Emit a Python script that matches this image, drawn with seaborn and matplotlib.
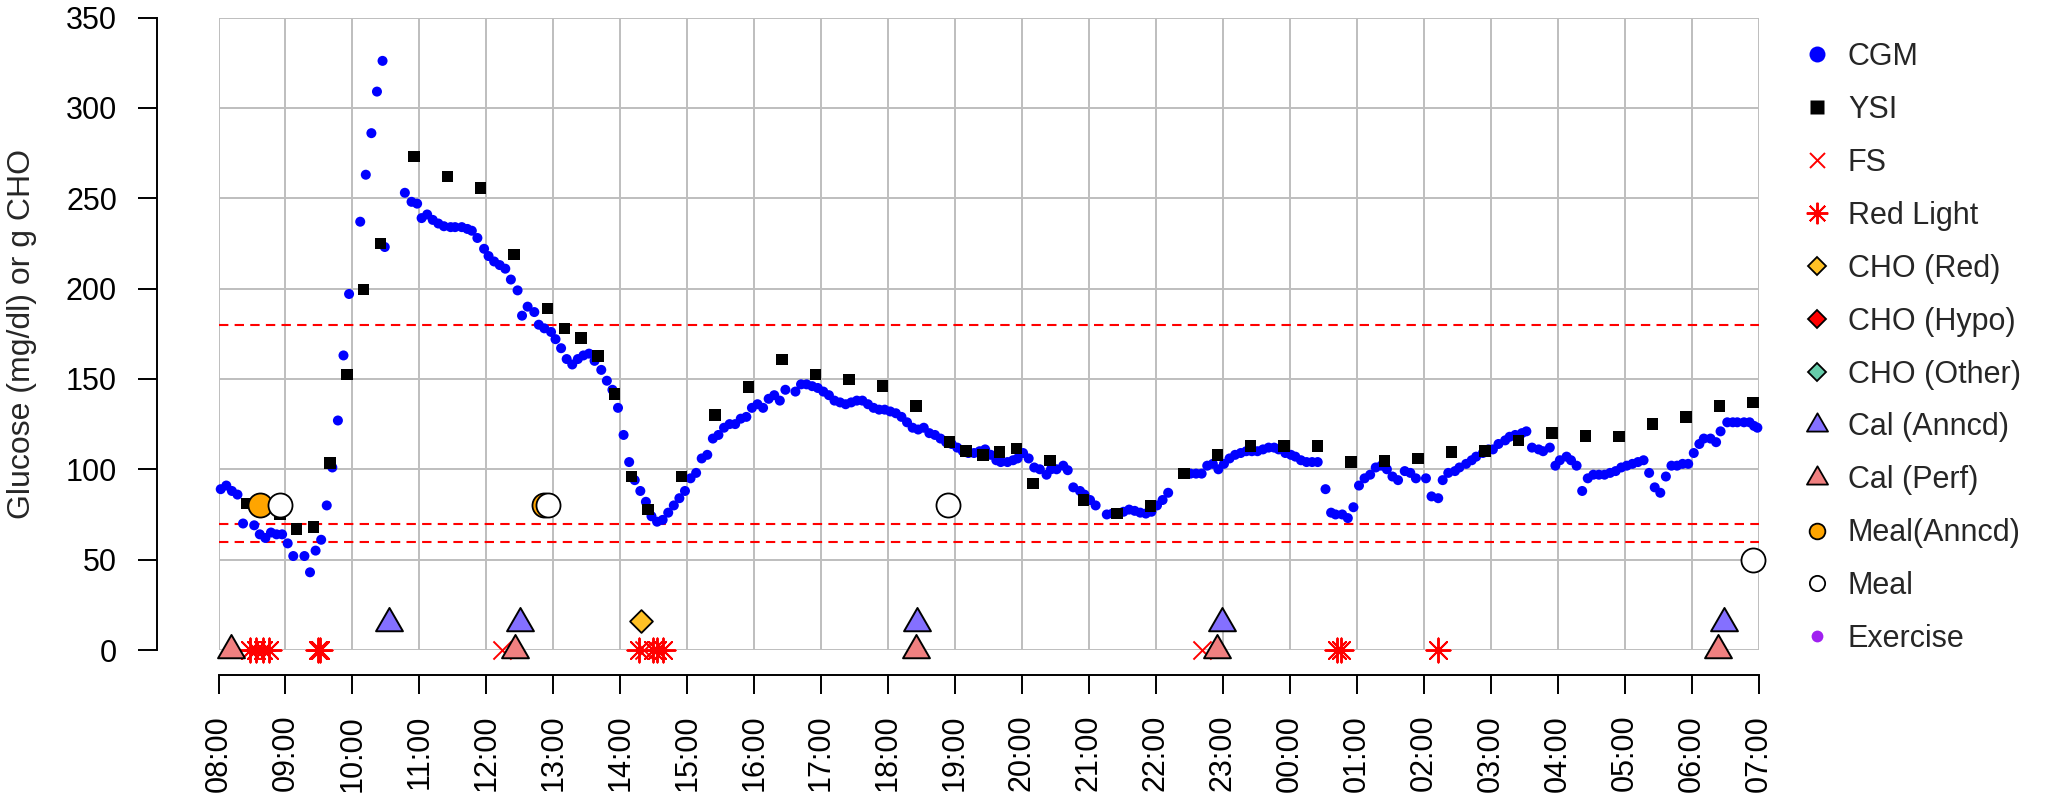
import numpy as np
import matplotlib
matplotlib.use("Agg")
import matplotlib.pyplot as plt
import seaborn as sns
from matplotlib.path import Path
from matplotlib.lines import Line2D

sns.set_style("white")
plt.rcParams["font.family"] = ["Liberation Sans", "DejaVu Sans"]

# ---------------- data (time = minutes after 08:00) ----------------
hour_labels = ["08:00", "09:00", "10:00", "11:00", "12:00", "13:00", "14:00", "15:00",
               "16:00", "17:00", "18:00", "19:00", "20:00", "21:00", "22:00", "23:00",
               "00:00", "01:00", "02:00", "03:00", "04:00", "05:00", "06:00", "07:00"]
y_ticks = [0, 50, 100, 150, 200, 250, 300, 350]
limit_lines = [180, 70, 60]

cgm_min = [2, 7, 12, 17, 22, 32, 37, 42, 47, 52, 57, 62, 67, 77, 82, 87, 92, 97, 102, 107,
           112, 117, 127, 132, 137, 142, 147, 149, 167, 173, 178, 182, 187, 192, 197, 202,
           208, 212, 218, 223, 227, 232, 238, 242, 247, 252, 257, 262, 268, 272, 277, 283,
           287, 292, 298, 302, 307, 312, 317, 322, 327, 332, 337, 343, 348, 353, 358, 363,
           368, 373, 378, 383, 388, 393, 398, 403, 408, 413, 418, 423, 428, 433, 438, 443,
           448, 453, 458, 463, 468, 473, 478, 483, 488, 493, 498, 503, 508, 517, 522, 527,
           532, 537, 542, 547, 552, 557, 562, 567, 572, 577, 582, 587, 592, 597, 602, 607,
           612, 617, 622, 627, 632, 637, 642, 647, 652, 657, 662, 667, 672, 677, 682, 687,
           692, 697, 701, 707, 712, 716, 721, 726, 731, 736, 742, 746, 751, 757, 761, 766,
           772, 776, 781, 786, 796, 801, 806, 811, 816, 821, 826, 831, 836, 841, 846, 851,
           871, 876, 881, 886, 891, 896, 901, 906, 911, 916, 921, 926, 931, 936, 941, 946,
           950, 956, 961, 965, 970, 975, 980, 985, 992, 997, 1001, 1007, 1012, 1017, 1022,
           1027, 1032, 1037, 1042, 1047, 1052, 1057, 1063, 1068, 1073, 1082, 1087, 1093,
           1097, 1102, 1108, 1112, 1118, 1123, 1127, 1133, 1138, 1142, 1147, 1153, 1157,
           1162, 1168, 1172, 1177, 1183, 1187, 1193, 1198, 1202, 1208, 1212, 1217, 1222,
           1227, 1232, 1237, 1242, 1247, 1252, 1257, 1262, 1267, 1272, 1277, 1282, 1287,
           1292, 1297, 1302, 1307, 1312, 1317, 1322, 1327, 1331, 1337, 1342, 1346, 1352,
           1357, 1361, 1367, 1372, 1376, 1379]
cgm_val = [89, 91, 88, 86, 70, 69, 64, 62, 65, 64, 64, 59, 52, 52, 43, 55, 61, 80, 101, 127,
           163, 197, 237, 263, 286, 309, 326, 223, 253, 248, 247, 239, 241, 238, 236, 234.5,
           234, 234, 234, 233, 232, 228, 222, 218, 215, 213, 211, 205, 199, 185, 190, 187,
           180, 178, 176, 172, 167, 161, 158, 161, 163, 164, 160, 155, 149, 144, 134, 119,
           104, 94, 88, 82, 74, 71, 72, 76, 80, 84, 88, 95, 98, 106, 108, 117,
           119, 123, 125, 125, 128, 129, 134, 136, 134, 139, 141, 138, 144, 143, 147, 147,
           146, 145, 143, 141, 138, 137, 136, 137, 138, 138, 136, 134, 133, 133, 132, 131,
           129, 126, 123, 122, 123, 120, 119, 117, 115, 114, 112, 110, 109, 109, 110, 111,
           108, 105, 104, 104, 105, 106, 109, 106, 101, 100, 97, 100, 100, 102, 99.5, 90,
           88, 86, 83, 80, 75, 75.5, 75.5, 76.5, 77.7, 77, 76, 75.5, 76.5, 80, 83, 87,
           97.6, 97.6, 97.6, 102, 103, 100, 103, 106, 108, 109, 110, 110, 110, 111, 112, 112,
           111, 109, 108, 107, 105, 104, 104, 104, 89, 76, 75, 75, 73, 79, 91,
           95, 97, 101, 102, 100, 96, 94, 99, 98, 95, 95, 85, 84,
           94, 98, 99, 101, 103, 105, 107, 109, 111, 111, 114, 116, 118,
           119, 120, 121, 112, 111, 110, 112, 102, 105, 107, 105, 102, 88,
           95, 97, 97, 97, 98, 99, 101, 102, 103, 104, 105, 98, 90,
           87, 96, 102, 102, 103, 103, 109, 114, 117, 117, 115, 121, 126,
           126, 126, 126, 126, 124, 123]

ysi_min = [25, 55, 70, 85, 100, 115, 130, 145, 175, 205, 235, 265, 295, 310, 325, 340, 355,
           370, 385, 415, 445, 475, 505, 535, 565, 595, 625, 655, 670, 685, 700, 715, 730,
           745, 775, 805, 835, 865, 895, 925, 955, 985, 1015, 1045, 1075, 1105, 1135, 1165,
           1195, 1225, 1255, 1285, 1315, 1345, 1375]
ysi_val = [81, 75, 67, 68, 103.6, 152.5, 199.5, 225, 273, 262, 255.6, 219, 189, 178, 172.6,
           162.6, 141.7, 96, 77.7, 96, 130, 145.6, 160.7, 152.5, 149.6, 146, 135, 115, 110,
           108, 109.6, 111.5, 92, 105, 83, 75.5, 79.6, 97.6, 108, 113, 113, 113, 104, 104.5,
           106, 109.6, 110, 116, 120, 118.5, 118, 125, 129, 135, 137]

fs_min = [254, 381, 881]
fs_val = [0, 0, 0]

redlight_min = [28, 34, 40, 45, 89, 91, 377, 389, 393, 398, 1002, 1006, 1093]
redlight_val = [0, 0, 0, 0, 0, 0, 0, 0, 0, 0, 0, 0, 0]

cho_red_min = [379]
cho_red_val = [16]

cal_anncd_min = [153, 270, 626, 899, 1349]
cal_anncd_val = [15, 15, 15, 15, 15]

cal_perf_min = [11, 266, 625, 895, 1344]
cal_perf_val = [0, 0, 0, 0, 0]

meal_anncd_min = [37, 292]
meal_anncd_val = [80, 80]

meal_min = [55, 295, 654, 1375]
meal_val = [80, 80, 80, 50]

legend_labels = ["CGM", "YSI", "FS", "Red Light", "CHO (Red)", "CHO (Hypo)", "CHO (Other)",
                 "Cal (Anncd)", "Cal (Perf)", "Meal(Anncd)", "Meal", "Exercise"]

# ---------------- styles ----------------
C_CGM = "#0000FF"
C_CHO_RED = "#FFC125"
C_CHO_HYPO = "#FF0000"
C_CHO_OTHER = "#66CDAA"
C_CAL_ANN = "#8470FF"
C_CAL_PERF = "#F08080"
C_MEAL_ANN = "#FFA500"
C_EXER = "#A020F0"

tri = Path([(0, 1), (-0.866, -0.5), (0.866, -0.5), (0, 1)],
           [Path.MOVETO, Path.LINETO, Path.LINETO, Path.CLOSEPOLY])
aster = (8, 2, 0)

W, H = 2049, 801
fig = plt.figure(figsize=(W / 100, H / 100), dpi=100)
x0, x1, ytop, ybot = 218.5, 1758.5, 17.5, 650.0
ax = fig.add_axes([x0 / W, 1 - ybot / H, (x1 - x0) / W, (ybot - ytop) / H])


def sc(xm, yv, **kw):
    sns.scatterplot(x=np.asarray(xm, dtype=float) / 60.0, y=np.asarray(yv, dtype=float),
                    ax=ax, legend=False, clip_on=False, **kw)


for v in limit_lines:
    ax.axhline(v, color="red", lw=1.5, ls=(0, (4.5, 3)), zorder=1.5)

sc(cgm_min, cgm_val, marker="o", s=52, color=C_CGM, edgecolor="none", zorder=3)
sc(ysi_min, ysi_val, marker="s", s=68, color="black", edgecolor="none", zorder=4)
sc(fs_min, fs_val, marker="x", s=170, color="red", linewidth=1.4, zorder=5)
sc(redlight_min, redlight_val, marker=aster, s=300, color="red", edgecolor="red",
   linewidth=1.4, zorder=5)
sc(cal_perf_min, cal_perf_val, marker=tri, s=500, color=C_CAL_PERF, edgecolor="black",
   linewidth=1.4, zorder=6)
sc(cal_anncd_min, cal_anncd_val, marker=tri, s=500, color=C_CAL_ANN, edgecolor="black",
   linewidth=1.4, zorder=6)
sc(cho_red_min, cho_red_val, marker="D", s=135, color=C_CHO_RED, edgecolor="black",
   linewidth=1.3, zorder=6)
sc(meal_anncd_min, meal_anncd_val, marker="o", s=300, color=C_MEAL_ANN, edgecolor="black",
   linewidth=1.3, zorder=7)
sc(meal_min, meal_val, marker="o", s=300, color="white", edgecolor="black",
   linewidth=1.3, zorder=7)

# axes
ax.set_xlim(0, len(hour_labels) - 1)
ax.set_ylim(y_ticks[0], y_ticks[-1])
ax.set_xticks(range(len(hour_labels)))
ax.set_xticklabels(hour_labels)
ax.set_yticks(y_ticks)
ax.set_yticklabels([str(t) for t in y_ticks])
ax.grid(True, color="#BEBEBE", linewidth=1.4)
ax.set_axisbelow(True)
for s in ["top", "right"]:
    ax.spines[s].set_visible(False)
ax.spines["left"].set_position(("outward", 44.5))
ax.spines["bottom"].set_position(("outward", 18.2))
for s in ["left", "bottom"]:
    ax.spines[s].set_color("black")
    ax.spines[s].set_linewidth(1.4)
ax.tick_params(axis="both", which="major", bottom=True, left=True, direction="out",
               length=14, width=1.4, pad=14.5, labelsize=22, colors="black")
ax.tick_params(axis="x", labelrotation=90)
for lbl in ax.get_xticklabels():
    lbl.set_rotation(90)
    lbl.set_ha("center")
    lbl.set_va("top")
ax.set_ylabel("Glucose (mg/dl) or g CHO", fontsize=23, va="center")
ax.yaxis.set_label_coords((22 - x0) / (x1 - x0), 0.5)

# legend
handles = [
    Line2D([], [], ls="none", marker="o", ms=11.5, mfc=C_CGM, mec="none"),
    Line2D([], [], ls="none", marker="s", ms=10.5, mfc="black", mec="none"),
    Line2D([], [], ls="none", marker="x", ms=10.8, mec="red", mew=1.4),
    Line2D([], [], ls="none", marker=aster, ms=15.5, mec="red", mew=1.4),
    Line2D([], [], ls="none", marker="D", ms=9.5, mfc=C_CHO_RED, mec="black", mew=1.3),
    Line2D([], [], ls="none", marker="D", ms=9.5, mfc=C_CHO_HYPO, mec="black", mew=1.3),
    Line2D([], [], ls="none", marker="D", ms=9.5, mfc=C_CHO_OTHER, mec="black", mew=1.3),
    Line2D([], [], ls="none", marker=tri, ms=17.5, mfc=C_CAL_ANN, mec="black", mew=1.3),
    Line2D([], [], ls="none", marker=tri, ms=17.5, mfc=C_CAL_PERF, mec="black", mew=1.3),
    Line2D([], [], ls="none", marker="o", ms=11.3, mfc=C_MEAL_ANN, mec="black", mew=1.3),
    Line2D([], [], ls="none", marker="o", ms=11.0, mfc="white", mec="black", mew=1.3),
    Line2D([], [], ls="none", marker="o", ms=8.5, mfc=C_EXER, mec="none"),
]
ax.legend(handles, legend_labels, loc="upper left", bbox_to_anchor=(1802 / W, 1 - 42 / H),
          bbox_transform=fig.transFigure, frameon=False, fontsize=22, handlelength=1.0,
          handletextpad=0.5, labelspacing=0.75, borderpad=0, borderaxespad=0)

fig.savefig("out.png", dpi=100)
